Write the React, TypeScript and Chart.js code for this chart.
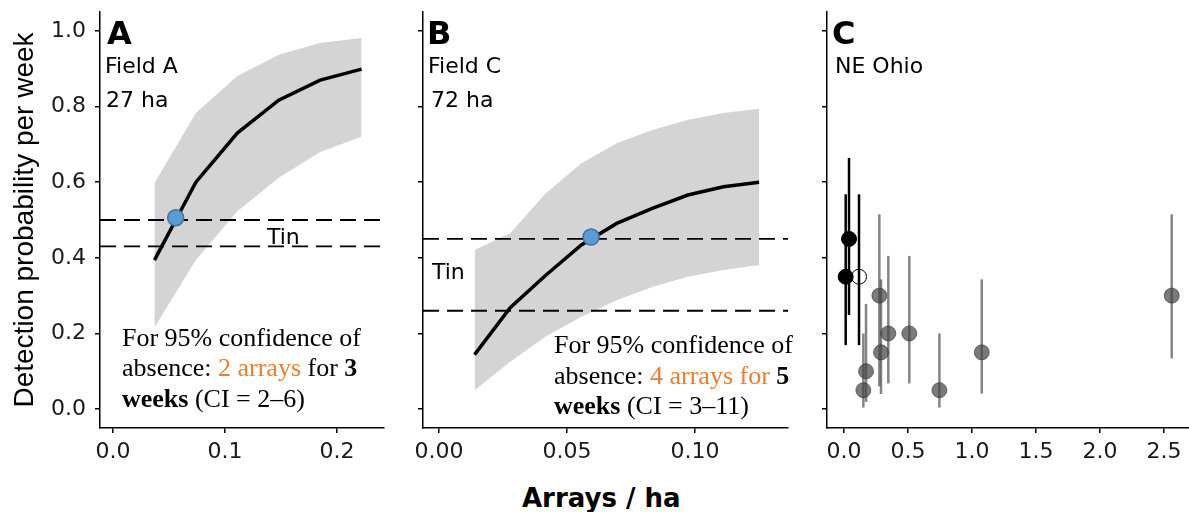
import React, { useEffect, useRef } from 'react';
import { Chart, registerables } from 'chart.js';

Chart.register(...registerables);

// ---------- Data ----------
// Panel A (Field A, 27 ha)
const armsA = [0.037, 0.074, 0.111, 0.148, 0.185, 0.222];
const fitA = [0.394, 0.6, 0.73, 0.817, 0.87, 0.899];
const upperA = [0.598, 0.783, 0.881, 0.937, 0.968, 0.981];
const lowerA = [0.216, 0.394, 0.523, 0.612, 0.68, 0.72];
const markAX = [0.056];
const markAY = [0.506];
const tinA = [0.5, 0.43];

// Panel B (Field C, 72 ha)
const armsB = [0.0139, 0.0278, 0.0417, 0.0556, 0.0694, 0.0833, 0.0972, 0.1111, 0.125];
const fitB = [0.144, 0.268, 0.354, 0.434, 0.491, 0.531, 0.566, 0.588, 0.6];
const upperB = [0.421, 0.465, 0.571, 0.65, 0.703, 0.738, 0.765, 0.783, 0.794];
const lowerB = [0.05, 0.125, 0.192, 0.244, 0.288, 0.323, 0.35, 0.368, 0.381];
const markBX = [0.0594];
const markBY = [0.455];
const tinB = [0.45, 0.26];

// Panel C (NE Ohio)
const fieldX = [0.039, 0.013];
const fieldY = [0.45, 0.35];
const fieldLo = [0.249, 0.169];
const fieldHi = [0.664, 0.568];
const openX = [0.117];
const openY = [0.35];
const openLo = [0.169];
const openHi = [0.568];
const siteX = [0.276, 0.289, 0.346, 0.51, 0.172, 0.151, 0.745, 1.076, 2.56];
const siteY = [0.3, 0.15, 0.2, 0.2, 0.1, 0.05, 0.05, 0.15, 0.3];
const siteLo = [0.06, 0.04, 0.068, 0.068, 0.019, 0.004, 0.004, 0.041, 0.134];
const siteHi = [0.515, 0.343, 0.405, 0.405, 0.278, 0.2, 0.2, 0.343, 0.515];

// Ticks
const yTicks = [0, 0.2, 0.4, 0.6, 0.8, 1.0];
const xTicksA = [0, 0.1, 0.2];
const xTicksB = [0, 0.05, 0.1];
const xTicksC = [0, 0.5, 1.0, 1.5, 2.0, 2.5];

const Y_TITLE = 'Detection probability per week';
const X_TITLE = 'Arrays / ha';

// ---------- Helpers ----------
const SANS = '"DejaVu Sans"';
const RIBBON = '#d4d4d4';

const pts = (xs: number[], ys: number[]) => xs.map((x, i) => ({ x, y: ys[i] }));

function yScale(width: number, labels: boolean, title: boolean) {
  return {
    type: 'linear',
    min: -0.05,
    max: 1.05,
    afterBuildTicks: (s: any) => {
      s.ticks = yTicks.map((v) => ({ value: v }));
    },
    afterFit: (s: any) => {
      s.width = width;
      s.paddingTop = 0;
      s.paddingBottom = 0;
    },
    ticks: {
      callback: (v: any) => (labels ? Number(v).toFixed(1) : ''),
      font: { family: SANS, size: 22 },
      color: '#1a1a1a',
      padding: 9,
    },
    grid: { drawOnChartArea: false, drawTicks: true, tickLength: 5, color: '#000', lineWidth: 1.5 },
    border: { display: true, color: '#000', width: 1.5 },
    title: {
      display: title,
      text: Y_TITLE,
      font: { family: '"Liberation Sans"', size: 28 },
      color: '#000',
      padding: { top: 8, bottom: 0 },
    },
  };
}

function xScale(min: number, max: number, ticks: number[], digits: number) {
  return {
    type: 'linear',
    position: 'bottom',
    min,
    max,
    afterBuildTicks: (s: any) => {
      s.ticks = ticks.map((v) => ({ value: v }));
    },
    afterFit: (s: any) => {
      s.height = 42;
      s.paddingLeft = 0;
      s.paddingRight = 0;
    },
    ticks: {
      callback: (v: any) => Number(v).toFixed(digits),
      font: { family: SANS, size: 22 },
      color: '#1a1a1a',
      padding: 6,
      autoSkip: false,
      maxRotation: 0,
    },
    grid: { drawOnChartArea: false, drawTicks: true, tickLength: 5, color: '#000', lineWidth: 1.5 },
    border: { display: true, color: '#000', width: 1.5 },
  };
}

function hlinePlugin(values: number[]) {
  return {
    id: 'hlines',
    beforeDatasetDraw(chart: any, args: any) {
      if (args.index !== 1) return;
      const { ctx, chartArea } = chart;
      const ys = chart.scales.y;
      ctx.save();
      ctx.strokeStyle = '#000';
      ctx.lineWidth = 1.8;
      ctx.setLineDash([16, 8]);
      values.forEach((v) => {
        const py = ys.getPixelForValue(v);
        ctx.beginPath();
        ctx.moveTo(chartArea.left, py);
        ctx.lineTo(chartArea.right, py);
        ctx.stroke();
      });
      ctx.restore();
    },
  };
}

const errorBarPlugin = {
  id: 'errbars',
  beforeDatasetsDraw(chart: any) {
    const { ctx } = chart;
    const xs = chart.scales.x;
    const ys = chart.scales.y;
    const groups = [
      { x: siteX, lo: siteLo, hi: siteHi, color: 'rgba(80,80,80,0.7)', w: 2.5 },
      { x: fieldX, lo: fieldLo, hi: fieldHi, color: '#000', w: 2.5 },
      { x: openX, lo: openLo, hi: openHi, color: '#000', w: 2.5 },
    ];
    ctx.save();
    groups.forEach((g) => {
      ctx.strokeStyle = g.color;
      ctx.lineWidth = g.w;
      g.x.forEach((xv, i) => {
        const px = xs.getPixelForValue(xv);
        ctx.beginPath();
        ctx.moveTo(px, ys.getPixelForValue(g.lo[i]));
        ctx.lineTo(px, ys.getPixelForValue(g.hi[i]));
        ctx.stroke();
      });
    });
    ctx.restore();
  },
};

function curveDatasets(
  arms: number[],
  fit: number[],
  upper: number[],
  lower: number[],
  mx: number[],
  my: number[]
) {
  return [
    {
      data: pts(mx, my),
      showLine: false,
      pointRadius: 8,
      pointBackgroundColor: '#5b9bd5',
      pointBorderColor: '#41719c',
      pointBorderWidth: 1.5,
    },
    {
      data: pts(arms, fit),
      borderColor: '#000',
      borderWidth: 3.5,
      pointRadius: 0,
      fill: false,
      tension: 0,
    },
    {
      data: pts(arms, upper),
      borderWidth: 0,
      borderColor: RIBBON,
      backgroundColor: RIBBON,
      pointRadius: 0,
      fill: '+1',
      tension: 0,
    },
    {
      data: pts(arms, lower),
      borderWidth: 0,
      borderColor: RIBBON,
      pointRadius: 0,
      fill: false,
      tension: 0,
    },
  ];
}

const baseOptions = (padding: any) => ({
  responsive: false,
  animation: false,
  devicePixelRatio: 1,
  events: [],
  layout: { padding, autoPadding: false },
  plugins: { legend: { display: false }, tooltip: { enabled: false } },
});

function useChart(ref: React.RefObject<HTMLCanvasElement>, make: () => any) {
  useEffect(() => {
    if (!ref.current) return;
    const chart = new Chart(ref.current, make());
    return () => chart.destroy();
  }, []);
}

function Txt(props: { x: number; base: number; size: number; bold?: boolean; children: any }) {
  const { x, base, size, bold, children } = props;
  return (
    <div
      style={{
        position: 'absolute',
        left: x,
        top: base - 0.846 * size,
        fontFamily: SANS,
        fontSize: size,
        lineHeight: `${size}px`,
        fontWeight: bold ? 'bold' : 'normal',
        whiteSpace: 'nowrap',
        color: '#000',
      }}
    >
      {children}
    </div>
  );
}

function Note(props: { x: number; top: number; children: any }) {
  return (
    <div
      style={{
        position: 'absolute',
        left: props.x,
        top: props.top,
        fontFamily: '"Liberation Serif"',
        fontSize: 26,
        lineHeight: '30.5px',
        whiteSpace: 'nowrap',
        color: '#000',
      }}
    >
      {props.children}
    </div>
  );
}

const ORANGE = '#ED7D31';
const H = 470;
const PAD_TOP = 12;

export default function App() {
  const refA = useRef<HTMLCanvasElement>(null);
  const refB = useRef<HTMLCanvasElement>(null);
  const refC = useRef<HTMLCanvasElement>(null);

  useChart(refA, () => ({
    type: 'line',
    data: { datasets: curveDatasets(armsA, fitA, upperA, lowerA, markAX, markAY) },
    options: {
      ...baseOptions({ top: PAD_TOP, right: 8, left: 0, bottom: 0 }),
      scales: { x: xScale(-0.0116, 0.242, xTicksA, 1), y: yScale(100, true, true) },
    },
    plugins: [hlinePlugin(tinA)],
  }));

  useChart(refB, () => ({
    type: 'line',
    data: { datasets: curveDatasets(armsB, fitB, upperB, lowerB, markBX, markBY) },
    options: {
      ...baseOptions({ top: PAD_TOP, right: 8, left: 0, bottom: 0 }),
      scales: { x: xScale(-0.00625, 0.1363, xTicksB, 2), y: yScale(23, false, false) },
    },
    plugins: [hlinePlugin(tinB)],
  }));

  useChart(refC, () => ({
    type: 'scatter',
    data: {
      datasets: [
        {
          data: pts(fieldX, fieldY),
          pointRadius: 7.5,
          pointBackgroundColor: '#000',
          pointBorderColor: '#000',
          pointBorderWidth: 1,
        },
        {
          data: pts(openX, openY),
          pointRadius: 7.5,
          pointBackgroundColor: 'rgba(0,0,0,0)',
          pointBorderColor: '#000',
          pointBorderWidth: 1,
        },
        {
          data: pts(siteX, siteY),
          pointRadius: 7.5,
          pointBackgroundColor: 'rgba(70,70,70,0.72)',
          pointBorderColor: 'rgba(40,40,40,0.55)',
          pointBorderWidth: 1,
        },
      ],
    },
    options: {
      ...baseOptions({ top: PAD_TOP, right: 0, left: 0, bottom: 0 }),
      scales: { x: xScale(-0.133, 2.695, xTicksC, 1), y: yScale(27, false, false) },
    },
    plugins: [errorBarPlugin],
  }));

  return (
    <div
      style={{
        position: 'fixed',
        left: 0,
        top: 0,
        width: 1189,
        height: 512,
        background: '#fff',
        overflow: 'hidden',
      }}
    >
      <canvas ref={refA} width={392} height={H} style={{ position: 'absolute', left: 0, top: 0 }} />
      <canvas ref={refB} width={396} height={H} style={{ position: 'absolute', left: 400, top: 0 }} />
      <canvas ref={refC} width={389} height={H} style={{ position: 'absolute', left: 800, top: 0 }} />

      {/* Panel A labels */}
      <Txt x={107} base={44} size={32} bold>A</Txt>
      <Txt x={105} base={74} size={22}>Field A</Txt>
      <Txt x={106} base={108} size={22}>27 ha</Txt>
      <Txt x={267} base={245} size={22}>Tin</Txt>
      <Note x={122} top={322.7}>
        For 95% confidence of
        <br />
        absence: <span style={{ color: ORANGE }}>2 arrays</span> for <b>3</b>
        <br />
        <b>weeks</b> (CI = 2–6)
      </Note>

      {/* Panel B labels */}
      <Txt x={427} base={44} size={32} bold>B</Txt>
      <Txt x={428} base={74} size={22}>Field C</Txt>
      <Txt x={431} base={108} size={22}>72 ha</Txt>
      <Txt x={432} base={280} size={22}>Tin</Txt>
      <Note x={554} top={330.3}>
        For 95% confidence of
        <br />
        absence: <span style={{ color: ORANGE }}>4 arrays for </span>
        <b>5</b>
        <br />
        <b>weeks</b> (CI = 3–11)
      </Note>

      {/* Panel C labels */}
      <Txt x={832} base={44} size={32} bold>C</Txt>
      <Txt x={835} base={74} size={22}>NE Ohio</Txt>

      {/* Shared x-axis title */}
      <Txt x={522} base={507} size={26} bold>{X_TITLE}</Txt>
    </div>
  );
}
